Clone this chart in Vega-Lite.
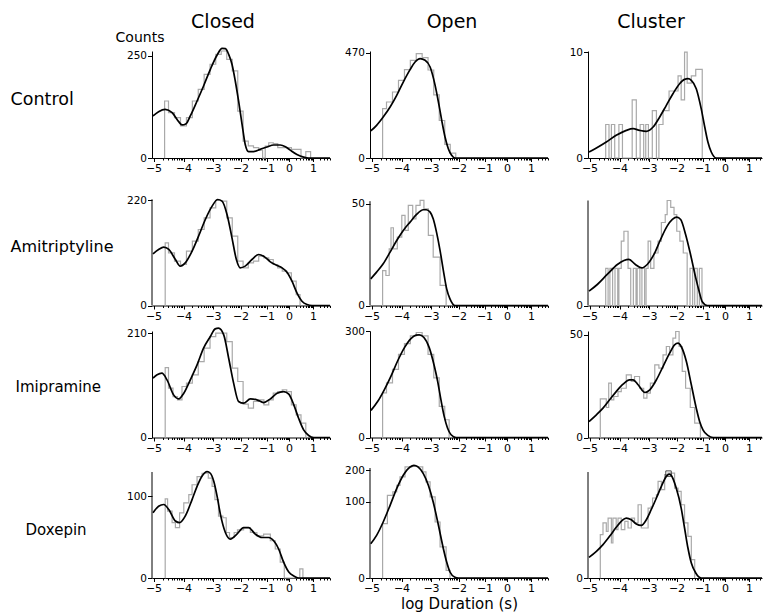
{
  "$schema": "https://vega.github.io/schema/vega-lite/v6.json",
  "padding": {"left": 10, "top": 12, "right": 0, "bottom": 0},
  "background": "white",
  "config": {
    "view": {"stroke": null},
    "font": "DejaVu Sans",
    "axis": {"grid": false, "domainColor": "black", "tickColor": "black", "labelColor": "black", "labelFont": "DejaVu Sans", "labelFontSize": 10.5, "titleFont": "DejaVu Sans", "titleFontWeight": "normal", "titleColor": "black", "domainWidth": 1, "tickWidth": 1},
    "title": {"font": "DejaVu Sans", "fontSize": 19, "fontWeight": "normal", "color": "black", "anchor": "middle"},
    "text": {"font": "DejaVu Sans"}
  },
  "datasets": {
    "h11": [{"logt":-4.631,"count":0},{"logt":-4.63,"count":78},{"logt":-4.5,"count":49.4},{"logt":-4.3,"count":39.1},{"logt":-4.1,"count":24.6},{"logt":-3.9,"count":39},{"logt":-3.7,"count":78},{"logt":-3.5,"count":113},{"logt":-3.3,"count":168},{"logt":-3.1,"count":211},{"logt":-2.9,"count":258},{"logt":-2.7,"count":275},{"logt":-2.5,"count":234},{"logt":-2.3,"count":182},{"logt":-2.1,"count":53},{"logt":-1.9,"count":6.9},{"logt":-1.7,"count":3.5},{"logt":-1.5,"count":2.6},{"logt":-1.3,"count":1.5},{"logt":-1.15,"count":0},{"logt":-1.05,"count":3.4},{"logt":-0.9,"count":5.6},{"logt":-0.7,"count":4.9},{"logt":-0.5,"count":2.6},{"logt":-0.3,"count":2.6},{"logt":-0.1,"count":2.6},{"logt":0.1,"count":1.8},{"logt":0.3,"count":1.8},{"logt":0.5,"count":0},{"logt":0.7,"count":0.96},{"logt":0.9,"count":0}],
    "c11": [{"logt":-5.02,"count":42.4},{"logt":-4.83,"count":51.6},{"logt":-4.61,"count":56.9},{"logt":-4.38,"count":49.4},{"logt":-4.16,"count":31.7},{"logt":-4.05,"count":26.2},{"logt":-3.91,"count":28.3},{"logt":-3.77,"count":42.4},{"logt":-3.54,"count":78.1},{"logt":-3.32,"count":124.6},{"logt":-3.09,"count":188.9},{"logt":-2.85,"count":255},{"logt":-2.67,"count":289},{"logt":-2.55,"count":287},{"logt":-2.43,"count":258},{"logt":-2.31,"count":211},{"logt":-2.19,"count":142.5},{"logt":-2.07,"count":78.1},{"logt":-1.94,"count":27.2},{"logt":-1.82,"count":4.5},{"logt":-1.69,"count":0.96},{"logt":-1.5,"count":1.0},{"logt":-1.24,"count":1.8},{"logt":-0.98,"count":2.9},{"logt":-0.68,"count":4.06},{"logt":-0.39,"count":4.06},{"logt":-0.16,"count":3.1},{"logt":0.05,"count":1.5},{"logt":0.33,"count":0.3},{"logt":0.61,"count":0.02},{"logt":0.82,"count":0},{"logt":1.71,"count":0}],
    "h12": [{"logt":-4.631,"count":0},{"logt":-4.63,"count":104},{"logt":-4.5,"count":133.7},{"logt":-4.3,"count":185.7},{"logt":-4.1,"count":257},{"logt":-3.9,"count":332.7},{"logt":-3.7,"count":406.6},{"logt":-3.5,"count":464},{"logt":-3.3,"count":430},{"logt":-3.1,"count":330},{"logt":-2.9,"count":170},{"logt":-2.7,"count":60},{"logt":-2.5,"count":8},{"logt":-2.3,"count":1},{"logt":-2.1,"count":0}],
    "c12": [{"logt":-5.03,"count":31.1},{"logt":-4.83,"count":45.5},{"logt":-4.61,"count":71.7},{"logt":-4.38,"count":110.9},{"logt":-4.16,"count":167.4},{"logt":-3.94,"count":246},{"logt":-3.71,"count":332.7},{"logt":-3.54,"count":393},{"logt":-3.37,"count":420.6},{"logt":-3.2,"count":406.6},{"logt":-3.03,"count":353},{"logt":-2.85,"count":225},{"logt":-2.73,"count":133.7},{"logt":-2.61,"count":60.5},{"logt":-2.49,"count":18.8},{"logt":-2.37,"count":3.7},{"logt":-2.25,"count":0.3},{"logt":-2.13,"count":0},{"logt":1.71,"count":0}],
    "h13": [{"logt":-4.461,"count":0},{"logt":-4.46,"count":1},{"logt":-4.35,"count":0},{"logt":-4.27,"count":1},{"logt":-4.16,"count":0},{"logt":-4.02,"count":1},{"logt":-3.9,"count":0},{"logt":-3.57,"count":3},{"logt":-3.43,"count":0},{"logt":-3.3,"count":1},{"logt":-3.18,"count":0},{"logt":-3.11,"count":1},{"logt":-3.02,"count":0},{"logt":-2.88,"count":2},{"logt":-2.73,"count":0},{"logt":-2.64,"count":1},{"logt":-2.49,"count":2},{"logt":-2.27,"count":4},{"logt":-1.94,"count":6},{"logt":-1.82,"count":3},{"logt":-1.69,"count":10},{"logt":-1.59,"count":5},{"logt":-1.43,"count":6},{"logt":-1.26,"count":7},{"logt":-1.01,"count":0}],
    "c13": [{"logt":-5.02,"count":0.032},{"logt":-4.77,"count":0.089},{"logt":-4.44,"count":0.228},{"logt":-4.11,"count":0.457},{"logt":-3.77,"count":0.68},{"logt":-3.54,"count":0.766},{"logt":-3.32,"count":0.68},{"logt":-3.09,"count":0.633},{"logt":-2.85,"count":0.855},{"logt":-2.61,"count":1.5},{"logt":-2.37,"count":2.47},{"logt":-2.13,"count":3.68},{"logt":-1.88,"count":4.92},{"logt":-1.69,"count":5.51},{"logt":-1.56,"count":5.6},{"logt":-1.43,"count":5.37},{"logt":-1.24,"count":4.28},{"logt":-1.05,"count":2.17},{"logt":-0.9,"count":0.855},{"logt":-0.76,"count":0.228},{"logt":-0.61,"count":0.032},{"logt":-0.39,"count":0},{"logt":1.54,"count":0}],
    "h21": [{"logt":-4.611,"count":0},{"logt":-4.61,"count":78.4},{"logt":-4.5,"count":55.3},{"logt":-4.3,"count":39.2},{"logt":-4.1,"count":33.5},{"logt":-3.9,"count":58.9},{"logt":-3.7,"count":82.6},{"logt":-3.5,"count":115.3},{"logt":-3.3,"count":153.4},{"logt":-3.1,"count":190.3},{"logt":-2.9,"count":220},{"logt":-2.7,"count":217},{"logt":-2.5,"count":153},{"logt":-2.3,"count":95.9},{"logt":-2.1,"count":39.2},{"logt":-1.9,"count":28.3},{"logt":-1.7,"count":36.3},{"logt":-1.5,"count":39.2},{"logt":-1.3,"count":48.6},{"logt":-1.1,"count":45.3},{"logt":-0.9,"count":42.2},{"logt":-0.7,"count":33.5},{"logt":-0.5,"count":28.3},{"logt":-0.3,"count":23.5},{"logt":-0.1,"count":21.3},{"logt":0.1,"count":11.8},{"logt":0.3,"count":2.4},{"logt":0.46,"count":0}],
    "c21": [{"logt":-5.02,"count":53.3},{"logt":-4.83,"count":62.6},{"logt":-4.66,"count":67.9},{"logt":-4.49,"count":62.6},{"logt":-4.27,"count":42.2},{"logt":-4.11,"count":30.9},{"logt":-3.94,"count":36.3},{"logt":-3.71,"count":58.9},{"logt":-3.49,"count":95.9},{"logt":-3.26,"count":147.6},{"logt":-3.03,"count":196.9},{"logt":-2.83,"count":224.2},{"logt":-2.67,"count":217.2},{"logt":-2.49,"count":165.2},{"logt":-2.31,"count":91.4},{"logt":-2.15,"count":42.2},{"logt":-2.01,"count":28.3},{"logt":-1.82,"count":30.9},{"logt":-1.56,"count":42.2},{"logt":-1.3,"count":51.9},{"logt":-1.11,"count":48.6},{"logt":-0.83,"count":38},{"logt":-0.53,"count":31.9},{"logt":-0.31,"count":28.3},{"logt":-0.09,"count":22.2},{"logt":0.125,"count":11.8},{"logt":0.33,"count":3.2},{"logt":0.54,"count":0.37},{"logt":0.75,"count":0.02},{"logt":0.96,"count":0},{"logt":1.71,"count":0}],
    "h22": [{"logt":-4.631,"count":0},{"logt":-4.63,"count":5.9},{"logt":-4.52,"count":4.35},{"logt":-4.41,"count":15.5},{"logt":-4.35,"count":29.2},{"logt":-4.27,"count":15.5},{"logt":-4.14,"count":22.6},{"logt":-3.99,"count":39.2},{"logt":-3.88,"count":27.2},{"logt":-3.77,"count":48.4},{"logt":-3.62,"count":36.3},{"logt":-3.51,"count":48.4},{"logt":-3.37,"count":53.3},{"logt":-3.24,"count":45.2},{"logt":-3.09,"count":23.7},{"logt":-2.92,"count":11.3},{"logt":-2.67,"count":1.94},{"logt":-2.45,"count":0}],
    "c22": [{"logt":-5.03,"count":3.44},{"logt":-4.83,"count":5.37},{"logt":-4.61,"count":8.4},{"logt":-4.38,"count":13.76},{"logt":-4.16,"count":20.4},{"logt":-3.94,"count":27.2},{"logt":-3.71,"count":33.6},{"logt":-3.49,"count":40.1},{"logt":-3.26,"count":44.3},{"logt":-3.16,"count":44.3},{"logt":-3.03,"count":42.1},{"logt":-2.92,"count":36.3},{"logt":-2.8,"count":26},{"logt":-2.67,"count":14.6},{"logt":-2.55,"count":5.9},{"logt":-2.43,"count":1.34},{"logt":-2.31,"count":0.21},{"logt":-2.13,"count":0},{"logt":1.71,"count":0}],
    "h23": [{"logt":-4.461,"count":0},{"logt":-4.46,"count":1},{"logt":-4.38,"count":0},{"logt":-4.32,"count":1},{"logt":-4.23,"count":0},{"logt":-4.15,"count":1},{"logt":-4.06,"count":0},{"logt":-4.02,"count":1},{"logt":-3.94,"count":3},{"logt":-3.85,"count":4},{"logt":-3.71,"count":1},{"logt":-3.62,"count":0},{"logt":-3.53,"count":1},{"logt":-3.44,"count":0},{"logt":-3.4,"count":1},{"logt":-3.31,"count":0},{"logt":-3.24,"count":1},{"logt":-3.15,"count":0},{"logt":-3.1,"count":1},{"logt":-3.03,"count":3},{"logt":-2.94,"count":1},{"logt":-2.82,"count":2},{"logt":-2.67,"count":3},{"logt":-2.55,"count":5},{"logt":-2.41,"count":6},{"logt":-2.34,"count":8},{"logt":-2.21,"count":7},{"logt":-2.09,"count":6},{"logt":-1.99,"count":4},{"logt":-1.87,"count":3},{"logt":-1.74,"count":2},{"logt":-1.59,"count":0},{"logt":-1.48,"count":1},{"logt":-1.38,"count":0},{"logt":-1.3,"count":1},{"logt":-1.2,"count":0},{"logt":-1.12,"count":1},{"logt":-1.02,"count":0}],
    "c23": [{"logt":-5.02,"count":0.149},{"logt":-4.74,"count":0.32},{"logt":-4.41,"count":0.7},{"logt":-4.07,"count":1.22},{"logt":-3.85,"count":1.47},{"logt":-3.68,"count":1.54},{"logt":-3.46,"count":1.22},{"logt":-3.24,"count":1.03},{"logt":-3.06,"count":1.22},{"logt":-2.82,"count":1.89},{"logt":-2.58,"count":3.16},{"logt":-2.34,"count":4.57},{"logt":-2.15,"count":5.37},{"logt":-1.99,"count":5.66},{"logt":-1.84,"count":5.37},{"logt":-1.65,"count":3.66},{"logt":-1.46,"count":1.89},{"logt":-1.26,"count":0.555},{"logt":-1.13,"count":0.149},{"logt":-1.01,"count":0.01},{"logt":-0.79,"count":0},{"logt":1.54,"count":0}],
    "h31": [{"logt":-4.611,"count":0},{"logt":-4.61,"count":94.5},{"logt":-4.5,"count":47},{"logt":-4.35,"count":32.4},{"logt":-4.2,"count":27.4},{"logt":-4.05,"count":50.2},{"logt":-3.9,"count":57},{"logt":-3.7,"count":75.8},{"logt":-3.5,"count":111.4},{"logt":-3.3,"count":154},{"logt":-3.1,"count":196.8},{"logt":-2.9,"count":210},{"logt":-2.7,"count":210},{"logt":-2.5,"count":177.8},{"logt":-2.3,"count":93},{"logt":-2.1,"count":60.5},{"logt":-1.9,"count":21.4},{"logt":-1.7,"count":16.6},{"logt":-1.5,"count":25},{"logt":-1.3,"count":27.4},{"logt":-1.1,"count":20.6},{"logt":-0.9,"count":27.4},{"logt":-0.7,"count":37.9},{"logt":-0.5,"count":40.8},{"logt":-0.3,"count":44},{"logt":-0.1,"count":40.8},{"logt":0.1,"count":20.6},{"logt":0.3,"count":9.9},{"logt":0.5,"count":4},{"logt":0.7,"count":0}],
    "c31": [{"logt":-5.02,"count":67.9},{"logt":-4.88,"count":75.8},{"logt":-4.72,"count":79.8},{"logt":-4.55,"count":64.2},{"logt":-4.33,"count":35.1},{"logt":-4.16,"count":28.8},{"logt":-3.99,"count":37.9},{"logt":-3.77,"count":64.2},{"logt":-3.54,"count":101.9},{"logt":-3.32,"count":154},{"logt":-3.09,"count":196.8},{"logt":-2.92,"count":227.8},{"logt":-2.8,"count":230.6},{"logt":-2.61,"count":203.3},{"logt":-2.43,"count":121.4},{"logt":-2.25,"count":57},{"logt":-2.07,"count":25},{"logt":-1.88,"count":22.7},{"logt":-1.62,"count":28.8},{"logt":-1.37,"count":27.4},{"logt":-1.11,"count":23.6},{"logt":-0.83,"count":28.8},{"logt":-0.53,"count":37.9},{"logt":-0.24,"count":40.8},{"logt":-0.01,"count":36.2},{"logt":0.2,"count":20.6},{"logt":0.4,"count":7.2},{"logt":0.61,"count":1.13},{"logt":0.82,"count":0.08},{"logt":1.03,"count":0},{"logt":1.71,"count":0}],
    "h32": [{"logt":-4.631,"count":0},{"logt":-4.63,"count":53},{"logt":-4.5,"count":79.8},{"logt":-4.3,"count":123.8},{"logt":-4.1,"count":184.8},{"logt":-3.9,"count":235.5},{"logt":-3.7,"count":275.8},{"logt":-3.5,"count":294.3},{"logt":-3.3,"count":275.8},{"logt":-3.1,"count":184.8},{"logt":-2.9,"count":95.2},{"logt":-2.7,"count":26},{"logt":-2.5,"count":8.4},{"logt":-2.34,"count":0}],
    "c32": [{"logt":-5.02,"count":19.7},{"logt":-4.79,"count":35},{"logt":-4.57,"count":61.4},{"logt":-4.35,"count":100.6},{"logt":-4.13,"count":156.2},{"logt":-3.9,"count":215.8},{"logt":-3.68,"count":261.4},{"logt":-3.51,"count":279.5},{"logt":-3.4,"count":281.3},{"logt":-3.24,"count":266.8},{"logt":-3.06,"count":215.8},{"logt":-2.88,"count":136.3},{"logt":-2.76,"count":84.8},{"logt":-2.64,"count":38.4},{"logt":-2.52,"count":11.9},{"logt":-2.4,"count":2.4},{"logt":-2.27,"count":0.2},{"logt":-2.09,"count":0},{"logt":1.71,"count":0}],
    "h33": [{"logt":-4.641,"count":0},{"logt":-4.64,"count":7.09},{"logt":-4.44,"count":4.27},{"logt":-4.36,"count":14},{"logt":-4.27,"count":6.73},{"logt":-4.19,"count":7.97},{"logt":-4.05,"count":10},{"logt":-3.94,"count":11.5},{"logt":-3.77,"count":18.6},{"logt":-3.6,"count":14.9},{"logt":-3.49,"count":17.65},{"logt":-3.32,"count":11.5},{"logt":-3.18,"count":7.34},{"logt":-3.07,"count":9.32},{"logt":-2.95,"count":14},{"logt":-2.79,"count":25},{"logt":-2.64,"count":22.8},{"logt":-2.49,"count":32.4},{"logt":-2.37,"count":39.3},{"logt":-2.25,"count":32.4},{"logt":-2.13,"count":46.8},{"logt":-2.03,"count":53.3},{"logt":-1.9,"count":39.3},{"logt":-1.78,"count":20.7},{"logt":-1.65,"count":11.5},{"logt":-1.47,"count":4.27},{"logt":-1.3,"count":0.97},{"logt":-1.08,"count":0}],
    "c33": [{"logt":-5.02,"count":1.21},{"logt":-4.77,"count":2.44},{"logt":-4.55,"count":4.08},{"logt":-4.33,"count":6.73},{"logt":-4.11,"count":10},{"logt":-3.88,"count":13.5},{"logt":-3.66,"count":15.8},{"logt":-3.54,"count":15.8},{"logt":-3.37,"count":13.2},{"logt":-3.14,"count":9.6},{"logt":-2.97,"count":10.8},{"logt":-2.73,"count":15.8},{"logt":-2.49,"count":23.9},{"logt":-2.25,"count":33.7},{"logt":-2.07,"count":40.7},{"logt":-1.94,"count":42.2},{"logt":-1.82,"count":39.3},{"logt":-1.62,"count":27.4},{"logt":-1.43,"count":13.2},{"logt":-1.24,"count":4.08},{"logt":-1.11,"count":1.21},{"logt":-0.98,"count":0.28},{"logt":-0.76,"count":0.02},{"logt":-0.53,"count":0},{"logt":1.54,"count":0}],
    "h41": [{"logt":-4.611,"count":0},{"logt":-4.61,"count":93.7},{"logt":-4.53,"count":67},{"logt":-4.38,"count":45.9},{"logt":-4.27,"count":38.1},{"logt":-4.13,"count":63.7},{"logt":-3.99,"count":84.5},{"logt":-3.82,"count":104.1},{"logt":-3.71,"count":130.2},{"logt":-3.54,"count":154.2},{"logt":-3.37,"count":164.4},{"logt":-3.16,"count":149.3},{"logt":-3.03,"count":125.7},{"logt":-2.93,"count":92.1},{"logt":-2.8,"count":57.5},{"logt":-2.64,"count":54.4},{"logt":-2.52,"count":31},{"logt":-2.4,"count":24.6},{"logt":-2.23,"count":31},{"logt":-2.11,"count":34.7},{"logt":-1.88,"count":38.1},{"logt":-1.62,"count":31},{"logt":-1.37,"count":26.6},{"logt":-1.11,"count":28.8},{"logt":-0.83,"count":20.8},{"logt":-0.61,"count":12.6},{"logt":-0.39,"count":3.75},{"logt":-0.21,"count":0},{"logt":0.45,"count":1.27},{"logt":0.58,"count":0}],
    "c41": [{"logt":-5.02,"count":63.7},{"logt":-4.83,"count":77.3},{"logt":-4.66,"count":80.9},{"logt":-4.49,"count":70.3},{"logt":-4.27,"count":48.7},{"logt":-4.13,"count":45.9},{"logt":-3.94,"count":57.5},{"logt":-3.71,"count":92.1},{"logt":-3.54,"count":125.7},{"logt":-3.37,"count":156},{"logt":-3.2,"count":169.6},{"logt":-3.09,"count":164.4},{"logt":-2.97,"count":139.6},{"logt":-2.85,"count":100},{"logt":-2.73,"count":60.6},{"logt":-2.55,"count":31},{"logt":-2.37,"count":22.6},{"logt":-2.13,"count":28.8},{"logt":-1.88,"count":38.1},{"logt":-1.69,"count":38.1},{"logt":-1.43,"count":28.8},{"logt":-1.17,"count":24.6},{"logt":-0.9,"count":24.6},{"logt":-0.68,"count":20.8},{"logt":-0.46,"count":12.6},{"logt":-0.24,"count":3.75},{"logt":-0.01,"count":0.53},{"logt":0.2,"count":0.06},{"logt":0.4,"count":0},{"logt":1.71,"count":0}],
    "h42": [{"logt":-4.631,"count":0},{"logt":-4.63,"count":50.9},{"logt":-4.47,"count":117.9},{"logt":-4.29,"count":127.6},{"logt":-4.16,"count":148.2},{"logt":-4.05,"count":176},{"logt":-3.88,"count":212.6},{"logt":-3.65,"count":215.1},{"logt":-3.46,"count":212.6},{"logt":-3.28,"count":193.9},{"logt":-3.17,"count":159},{"logt":-3.03,"count":113.2},{"logt":-2.85,"count":54.1},{"logt":-2.67,"count":16.6},{"logt":-2.45,"count":1},{"logt":-2.31,"count":0}],
    "c42": [{"logt":-5.03,"count":20.3},{"logt":-4.83,"count":31.4},{"logt":-4.61,"count":54.1},{"logt":-4.38,"count":91.1},{"logt":-4.16,"count":137.7},{"logt":-3.94,"count":181.9},{"logt":-3.71,"count":212.6},{"logt":-3.58,"count":219},{"logt":-3.44,"count":212.6},{"logt":-3.26,"count":187.8},{"logt":-3.09,"count":148.2},{"logt":-2.92,"count":99.7},{"logt":-2.73,"count":47.9},{"logt":-2.55,"count":14.8},{"logt":-2.43,"count":4.4},{"logt":-2.31,"count":0.62},{"logt":-2.13,"count":0.01},{"logt":-2.0,"count":0},{"logt":1.71,"count":0}],
    "h43": [{"logt":-4.641,"count":0},{"logt":-4.64,"count":6.69},{"logt":-4.55,"count":10.8},{"logt":-4.44,"count":7.75},{"logt":-4.38,"count":12.8},{"logt":-4.27,"count":4.36},{"logt":-4.22,"count":12.8},{"logt":-4.11,"count":8.32},{"logt":-4.05,"count":12.8},{"logt":-3.94,"count":8.32},{"logt":-3.82,"count":11.4},{"logt":-3.71,"count":8.9},{"logt":-3.6,"count":12.8},{"logt":-3.49,"count":10.8},{"logt":-3.37,"count":19.1},{"logt":-3.26,"count":8.9},{"logt":-3.03,"count":17.4},{"logt":-2.92,"count":18.3},{"logt":-2.87,"count":22.8},{"logt":-2.73,"count":24.7},{"logt":-2.67,"count":33.3},{"logt":-2.55,"count":27.8},{"logt":-2.43,"count":38},{"logt":-2.31,"count":39.2},{"logt":-2.07,"count":28.8},{"logt":-1.94,"count":26.7},{"logt":-1.82,"count":19.1},{"logt":-1.69,"count":10.8},{"logt":-1.56,"count":6.18},{"logt":-1.43,"count":1.2},{"logt":-1.3,"count":0}],
    "c43": [{"logt":-5.02,"count":1.52},{"logt":-4.77,"count":2.53},{"logt":-4.55,"count":3.96},{"logt":-4.33,"count":6.18},{"logt":-4.11,"count":9.14},{"logt":-3.88,"count":12.1},{"logt":-3.77,"count":12.8},{"logt":-3.6,"count":12.1},{"logt":-3.43,"count":10.4},{"logt":-3.26,"count":9.87},{"logt":-3.09,"count":12.1},{"logt":-2.92,"count":16.6},{"logt":-2.73,"count":22.8},{"logt":-2.55,"count":29.9},{"logt":-2.37,"count":36.8},{"logt":-2.27,"count":38.5},{"logt":-2.19,"count":37.5},{"logt":-2.01,"count":28.8},{"logt":-1.82,"count":17.4},{"logt":-1.69,"count":8.9},{"logt":-1.56,"count":3.2},{"logt":-1.43,"count":0.8},{"logt":-1.26,"count":0.09},{"logt":-1.05,"count":0},{"logt":1.54,"count":0}],
    "mk43": [{"logt":-2.29,"count":38.8}]
  },
  "columns": 3,
  "spacing": {"row": 25, "column": 40},
  "bounds": "flush",
  "concat": [
    {
      "width": 178, "height": 107,
      "title": {"text": "Closed", "dx": -18, "offset": -1},
      "resolve": {"axis": {"x": "independent"}},
      "layer": [
        {"data": {"name": "h11"}, "mark": {"type": "line", "interpolate": "step-after", "color": "#a9a9a9", "strokeWidth": 1.2},
         "encoding": {
           "x": {"field": "logt", "type": "quantitative", "scale": {"domain": [-5.06,-5,-4,-3,-2,-1,0,1,1.71], "range": [0,1.5,31.5,61,88.5,114.5,137,161,178], "nice": false, "zero": false}, "axis": {"orient": "bottom", "values": [-5,-4,-3,-2,-1,0,1], "title": null, "tickSize": 3.5, "labelPadding": 1, "labelFontSize": 11, "labelFlush": false, "labelOverlap": false}},
           "y": {"field": "count", "type": "quantitative", "scale": {"type": "sqrt", "domain": [0, 275], "nice": false}, "axis": {"values": [0, 250], "title": "Control", "titleAngle": 0, "titleAlign": "left", "titleBaseline": "middle", "titleX": -142, "titleY": 48, "titleFontSize": 17.5, "tickSize": 4.5, "labelPadding": 1}}
         }},
        {"data": {"name": "c11"}, "mark": {"type": "line", "interpolate": "monotone", "color": "black", "strokeWidth": 1.7},
         "encoding": {
           "x": {"field": "logt", "type": "quantitative", "axis": {"orient": "bottom", "values": [-4.699,-4.523,-4.398,-4.301,-4.222,-4.155,-4.097,-4.046,-3.699,-3.523,-3.398,-3.301,-3.222,-3.155,-3.097,-3.046,-2.699,-2.523,-2.398,-2.301,-2.222,-2.155,-2.097,-2.046,-1.699,-1.523,-1.398,-1.301,-1.222,-1.155,-1.097,-1.046,-0.699,-0.523,-0.398,-0.301,-0.222,-0.155,-0.097,-0.046,0.301,0.477,0.602,0.699,0.778,0.845,0.903,0.954,1.301,1.477,1.602,1.699], "labels": false, "domain": false, "title": null, "tickSize": 2}},
           "y": {"field": "count", "type": "quantitative"}
         }},
        {"data": {"values": [{"label": "Counts", "edge": -5.06, "top": 275}]}, "mark": {"type": "text", "dx": -12, "dy": -13, "fontSize": 14},
         "encoding": {"x": {"field": "edge", "type": "quantitative", "axis": null}, "y": {"field": "top", "type": "quantitative"}, "text": {"field": "label"}}}
      ]
    },
    {
      "width": 178, "height": 107,
      "title": {"text": "Open", "dx": -7, "offset": 16},
      "resolve": {"axis": {"x": "independent"}},
      "layer": [
        {"data": {"name": "h12"}, "mark": {"type": "line", "interpolate": "step-after", "color": "#a9a9a9", "strokeWidth": 1.2},
         "encoding": {
           "x": {"field": "logt", "type": "quantitative", "scale": {"domain": [-5.06,-5,-4,-3,-2,-1,0,1,1.71], "range": [0,1.5,31.5,61,88.5,114.5,137,161,178], "nice": false, "zero": false}, "axis": {"orient": "bottom", "values": [-5,-4,-3,-2,-1,0,1], "title": null, "tickSize": 3.5, "labelPadding": 1, "labelFontSize": 11, "labelFlush": false, "labelOverlap": false}},
           "y": {"field": "count", "type": "quantitative", "scale": {"type": "sqrt", "domain": [0, 488], "nice": false}, "axis": {"values": [0, 470], "title": null, "tickSize": 4.5, "labelPadding": 1}}
         }},
        {"data": {"name": "c12"}, "mark": {"type": "line", "interpolate": "monotone", "color": "black", "strokeWidth": 1.7},
         "encoding": {
           "x": {"field": "logt", "type": "quantitative", "axis": {"orient": "bottom", "values": [-4.699,-4.523,-4.398,-4.301,-4.222,-4.155,-4.097,-4.046,-3.699,-3.523,-3.398,-3.301,-3.222,-3.155,-3.097,-3.046,-2.699,-2.523,-2.398,-2.301,-2.222,-2.155,-2.097,-2.046,-1.699,-1.523,-1.398,-1.301,-1.222,-1.155,-1.097,-1.046,-0.699,-0.523,-0.398,-0.301,-0.222,-0.155,-0.097,-0.046,0.301,0.477,0.602,0.699,0.778,0.845,0.903,0.954,1.301,1.477,1.602,1.699], "labels": false, "domain": false, "title": null, "tickSize": 2}},
           "y": {"field": "count", "type": "quantitative"}
         }}
      ]
    },
    {
      "width": 174, "height": 107,
      "title": {"text": "Cluster", "dx": -24, "offset": 15},
      "resolve": {"axis": {"x": "independent"}},
      "layer": [
        {"data": {"name": "h13"}, "mark": {"type": "line", "interpolate": "step-after", "color": "#a9a9a9", "strokeWidth": 1.2},
         "encoding": {
           "x": {"field": "logt", "type": "quantitative", "scale": {"domain": [-5.06,-5,-4,-3,-2,-1,0,1,1.54], "range": [0,1.5,31.5,61,88.5,114.5,137,161,174], "nice": false, "zero": false}, "axis": {"orient": "bottom", "values": [-5,-4,-3,-2,-1,0,1], "title": null, "tickSize": 3.5, "labelPadding": 1, "labelFontSize": 11, "labelFlush": false, "labelOverlap": false}},
           "y": {"field": "count", "type": "quantitative", "scale": {"type": "sqrt", "domain": [0, 10.2], "nice": false}, "axis": {"values": [0, 10], "title": null, "tickSize": 4.5, "labelPadding": 1}}
         }},
        {"data": {"name": "c13"}, "mark": {"type": "line", "interpolate": "monotone", "color": "black", "strokeWidth": 1.7},
         "encoding": {
           "x": {"field": "logt", "type": "quantitative", "axis": {"orient": "bottom", "values": [-4.699,-4.523,-4.398,-4.301,-4.222,-4.155,-4.097,-4.046,-3.699,-3.523,-3.398,-3.301,-3.222,-3.155,-3.097,-3.046,-2.699,-2.523,-2.398,-2.301,-2.222,-2.155,-2.097,-2.046,-1.699,-1.523,-1.398,-1.301,-1.222,-1.155,-1.097,-1.046,-0.699,-0.523,-0.398,-0.301,-0.222,-0.155,-0.097,-0.046,0.301,0.477,0.602,0.699,0.778,0.845,0.903,0.954,1.301,1.477], "labels": false, "domain": false, "title": null, "tickSize": 2}},
           "y": {"field": "count", "type": "quantitative"}
         }}
      ]
    },
    {
      "width": 178, "height": 122.5,
      "resolve": {"axis": {"x": "independent"}},
      "layer": [
        {"data": {"name": "h21"}, "mark": {"type": "line", "interpolate": "step-after", "color": "#a9a9a9", "strokeWidth": 1.2},
         "encoding": {
           "x": {"field": "logt", "type": "quantitative", "scale": {"domain": [-5.06,-5,-4,-3,-2,-1,0,1,1.71], "range": [0,1.5,31.5,61,88.5,114.5,137,161,178], "nice": false, "zero": false}, "axis": {"orient": "bottom", "values": [-5,-4,-3,-2,-1,0,1], "title": null, "tickSize": 3.5, "labelPadding": 1, "labelFontSize": 11, "labelFlush": false, "labelOverlap": false}},
           "y": {"field": "count", "type": "quantitative", "scale": {"type": "sqrt", "domain": [0, 299.4], "nice": false}, "axis": {"values": [0, 220], "domain": false, "title": "Amitriptyline", "titleAngle": 0, "titleAlign": "left", "titleBaseline": "middle", "titleX": -142, "titleY": 63, "titleFontSize": 16, "tickSize": 4.5, "labelPadding": 1}}
         }},
        {"data": {"name": "c21"}, "mark": {"type": "line", "interpolate": "monotone", "color": "black", "strokeWidth": 1.7},
         "encoding": {
           "x": {"field": "logt", "type": "quantitative", "axis": {"orient": "bottom", "values": [-4.699,-4.523,-4.398,-4.301,-4.222,-4.155,-4.097,-4.046,-3.699,-3.523,-3.398,-3.301,-3.222,-3.155,-3.097,-3.046,-2.699,-2.523,-2.398,-2.301,-2.222,-2.155,-2.097,-2.046,-1.699,-1.523,-1.398,-1.301,-1.222,-1.155,-1.097,-1.046,-0.699,-0.523,-0.398,-0.301,-0.222,-0.155,-0.097,-0.046,0.301,0.477,0.602,0.699,0.778,0.845,0.903,0.954,1.301,1.477,1.602,1.699], "labels": false, "domain": false, "title": null, "tickSize": 2}},
           "y": {"field": "count", "type": "quantitative"}
         }},
        {"data": {"values": [{"edge": -5.06, "lo": 0, "hi": 225}]}, "mark": {"type": "rule", "color": "black", "strokeWidth": 1},
         "encoding": {"x": {"field": "edge", "type": "quantitative", "axis": null}, "y": {"field": "lo", "type": "quantitative"}, "y2": {"field": "hi"}}}
      ]
    },
    {
      "width": 178, "height": 122.5,
      "resolve": {"axis": {"x": "independent"}},
      "layer": [
        {"data": {"name": "h22"}, "mark": {"type": "line", "interpolate": "step-after", "color": "#a9a9a9", "strokeWidth": 1.2},
         "encoding": {
           "x": {"field": "logt", "type": "quantitative", "scale": {"domain": [-5.06,-5,-4,-3,-2,-1,0,1,1.71], "range": [0,1.5,31.5,61,88.5,114.5,137,161,178], "nice": false, "zero": false}, "axis": {"orient": "bottom", "values": [-5,-4,-3,-2,-1,0,1], "title": null, "tickSize": 3.5, "labelPadding": 1, "labelFontSize": 11, "labelFlush": false, "labelOverlap": false}},
           "y": {"field": "count", "type": "quantitative", "scale": {"type": "sqrt", "domain": [0, 72.5], "nice": false}, "axis": {"values": [0, 50], "domain": false, "title": null, "tickSize": 4.5, "labelPadding": 1}}
         }},
        {"data": {"name": "c22"}, "mark": {"type": "line", "interpolate": "monotone", "color": "black", "strokeWidth": 1.7},
         "encoding": {
           "x": {"field": "logt", "type": "quantitative", "axis": {"orient": "bottom", "values": [-4.699,-4.523,-4.398,-4.301,-4.222,-4.155,-4.097,-4.046,-3.699,-3.523,-3.398,-3.301,-3.222,-3.155,-3.097,-3.046,-2.699,-2.523,-2.398,-2.301,-2.222,-2.155,-2.097,-2.046,-1.699,-1.523,-1.398,-1.301,-1.222,-1.155,-1.097,-1.046,-0.699,-0.523,-0.398,-0.301,-0.222,-0.155,-0.097,-0.046,0.301,0.477,0.602,0.699,0.778,0.845,0.903,0.954,1.301,1.477,1.602,1.699], "labels": false, "domain": false, "title": null, "tickSize": 2}},
           "y": {"field": "count", "type": "quantitative"}
         }},
        {"data": {"values": [{"edge": -5.06, "lo": 0, "hi": 52.6}]}, "mark": {"type": "rule", "color": "black", "strokeWidth": 1},
         "encoding": {"x": {"field": "edge", "type": "quantitative", "axis": null}, "y": {"field": "lo", "type": "quantitative"}, "y2": {"field": "hi"}}}
      ]
    },
    {
      "width": 174, "height": 122.5,
      "resolve": {"axis": {"x": "independent"}},
      "layer": [
        {"data": {"name": "h23"}, "mark": {"type": "line", "interpolate": "step-after", "color": "#a9a9a9", "strokeWidth": 1.2},
         "encoding": {
           "x": {"field": "logt", "type": "quantitative", "scale": {"domain": [-5.06,-5,-4,-3,-2,-1,0,1,1.54], "range": [0,1.5,31.5,61,88.5,114.5,137,161,174], "nice": false, "zero": false}, "axis": {"orient": "bottom", "values": [-5,-4,-3,-2,-1,0,1], "title": null, "tickSize": 3.5, "labelPadding": 1, "labelFontSize": 11, "labelFlush": false, "labelOverlap": false}},
           "y": {"field": "count", "type": "quantitative", "scale": {"type": "sqrt", "domain": [0, 10.89], "nice": false}, "axis": {"values": [0], "domain": false, "title": null, "tickSize": 4.5, "labelPadding": 1}}
         }},
        {"data": {"name": "c23"}, "mark": {"type": "line", "interpolate": "monotone", "color": "black", "strokeWidth": 1.7},
         "encoding": {
           "x": {"field": "logt", "type": "quantitative", "axis": {"orient": "bottom", "values": [-4.699,-4.523,-4.398,-4.301,-4.222,-4.155,-4.097,-4.046,-3.699,-3.523,-3.398,-3.301,-3.222,-3.155,-3.097,-3.046,-2.699,-2.523,-2.398,-2.301,-2.222,-2.155,-2.097,-2.046,-1.699,-1.523,-1.398,-1.301,-1.222,-1.155,-1.097,-1.046,-0.699,-0.523,-0.398,-0.301,-0.222,-0.155,-0.097,-0.046,0.301,0.477,0.602,0.699,0.778,0.845,0.903,0.954,1.301,1.477], "labels": false, "domain": false, "title": null, "tickSize": 2}},
           "y": {"field": "count", "type": "quantitative"}
         }},
        {"data": {"values": [{"edge": -5.06, "lo": 0, "hi": 8}]}, "mark": {"type": "rule", "color": "black", "strokeWidth": 1},
         "encoding": {"x": {"field": "edge", "type": "quantitative", "axis": null}, "y": {"field": "lo", "type": "quantitative"}, "y2": {"field": "hi"}}}
      ]
    },
    {
      "width": 178, "height": 106.5,
      "resolve": {"axis": {"x": "independent"}},
      "layer": [
        {"data": {"name": "h31"}, "mark": {"type": "line", "interpolate": "step-after", "color": "#a9a9a9", "strokeWidth": 1.2},
         "encoding": {
           "x": {"field": "logt", "type": "quantitative", "scale": {"domain": [-5.06,-5,-4,-3,-2,-1,0,1,1.71], "range": [0,1.5,31.5,61,88.5,114.5,137,161,178], "nice": false, "zero": false}, "axis": {"orient": "bottom", "values": [-5,-4,-3,-2,-1,0,1], "title": null, "tickSize": 3.5, "labelPadding": 1, "labelFontSize": 11, "labelFlush": false, "labelOverlap": false}},
           "y": {"field": "count", "type": "quantitative", "scale": {"type": "sqrt", "domain": [0, 219], "nice": false}, "axis": {"values": [0, 210], "title": "Imipramine", "titleAngle": 0, "titleAlign": "left", "titleBaseline": "middle", "titleX": -137, "titleY": 55.5, "titleFontSize": 15, "tickSize": 4.5, "labelPadding": 1}}
         }},
        {"data": {"name": "c31"}, "mark": {"type": "line", "interpolate": "monotone", "color": "black", "strokeWidth": 1.7},
         "encoding": {
           "x": {"field": "logt", "type": "quantitative", "axis": {"orient": "bottom", "values": [-4.699,-4.523,-4.398,-4.301,-4.222,-4.155,-4.097,-4.046,-3.699,-3.523,-3.398,-3.301,-3.222,-3.155,-3.097,-3.046,-2.699,-2.523,-2.398,-2.301,-2.222,-2.155,-2.097,-2.046,-1.699,-1.523,-1.398,-1.301,-1.222,-1.155,-1.097,-1.046,-0.699,-0.523,-0.398,-0.301,-0.222,-0.155,-0.097,-0.046,0.301,0.477,0.602,0.699,0.778,0.845,0.903,0.954,1.301,1.477,1.602,1.699], "labels": false, "domain": false, "title": null, "tickSize": 2}},
           "y": {"field": "count", "type": "quantitative"}
         }}
      ]
    },
    {
      "width": 178, "height": 106.5,
      "resolve": {"axis": {"x": "independent"}},
      "layer": [
        {"data": {"name": "h32"}, "mark": {"type": "line", "interpolate": "step-after", "color": "#a9a9a9", "strokeWidth": 1.2},
         "encoding": {
           "x": {"field": "logt", "type": "quantitative", "scale": {"domain": [-5.06,-5,-4,-3,-2,-1,0,1,1.71], "range": [0,1.5,31.5,61,88.5,114.5,137,161,178], "nice": false, "zero": false}, "axis": {"orient": "bottom", "values": [-5,-4,-3,-2,-1,0,1], "title": null, "tickSize": 3.5, "labelPadding": 1, "labelFontSize": 11, "labelFlush": false, "labelOverlap": false}},
           "y": {"field": "count", "type": "quantitative", "scale": {"type": "sqrt", "domain": [0, 302.8], "nice": false}, "axis": {"values": [0, 300], "title": null, "tickSize": 4.5, "labelPadding": 1}}
         }},
        {"data": {"name": "c32"}, "mark": {"type": "line", "interpolate": "monotone", "color": "black", "strokeWidth": 1.7},
         "encoding": {
           "x": {"field": "logt", "type": "quantitative", "axis": {"orient": "bottom", "values": [-4.699,-4.523,-4.398,-4.301,-4.222,-4.155,-4.097,-4.046,-3.699,-3.523,-3.398,-3.301,-3.222,-3.155,-3.097,-3.046,-2.699,-2.523,-2.398,-2.301,-2.222,-2.155,-2.097,-2.046,-1.699,-1.523,-1.398,-1.301,-1.222,-1.155,-1.097,-1.046,-0.699,-0.523,-0.398,-0.301,-0.222,-0.155,-0.097,-0.046,0.301,0.477,0.602,0.699,0.778,0.845,0.903,0.954,1.301,1.477,1.602,1.699], "labels": false, "domain": false, "title": null, "tickSize": 2}},
           "y": {"field": "count", "type": "quantitative"}
         }}
      ]
    },
    {
      "width": 174, "height": 106.5,
      "resolve": {"axis": {"x": "independent"}},
      "layer": [
        {"data": {"name": "h33"}, "mark": {"type": "line", "interpolate": "step-after", "color": "#a9a9a9", "strokeWidth": 1.2},
         "encoding": {
           "x": {"field": "logt", "type": "quantitative", "scale": {"domain": [-5.06,-5,-4,-3,-2,-1,0,1,1.54], "range": [0,1.5,31.5,61,88.5,114.5,137,161,174], "nice": false, "zero": false}, "axis": {"orient": "bottom", "values": [-5,-4,-3,-2,-1,0,1], "title": null, "tickSize": 3.5, "labelPadding": 1, "labelFontSize": 11, "labelFlush": false, "labelOverlap": false}},
           "y": {"field": "count", "type": "quantitative", "scale": {"type": "sqrt", "domain": [0, 53.8], "nice": false}, "axis": {"values": [0, 50], "title": null, "tickSize": 4.5, "labelPadding": 1}}
         }},
        {"data": {"name": "c33"}, "mark": {"type": "line", "interpolate": "monotone", "color": "black", "strokeWidth": 1.7},
         "encoding": {
           "x": {"field": "logt", "type": "quantitative", "axis": {"orient": "bottom", "values": [-4.699,-4.523,-4.398,-4.301,-4.222,-4.155,-4.097,-4.046,-3.699,-3.523,-3.398,-3.301,-3.222,-3.155,-3.097,-3.046,-2.699,-2.523,-2.398,-2.301,-2.222,-2.155,-2.097,-2.046,-1.699,-1.523,-1.398,-1.301,-1.222,-1.155,-1.097,-1.046,-0.699,-0.523,-0.398,-0.301,-0.222,-0.155,-0.097,-0.046,0.301,0.477,0.602,0.699,0.778,0.845,0.903,0.954,1.301,1.477], "labels": false, "domain": false, "title": null, "tickSize": 2}},
           "y": {"field": "count", "type": "quantitative"}
         }}
      ]
    },
    {
      "width": 178, "height": 115,
      "resolve": {"axis": {"x": "independent"}},
      "layer": [
        {"data": {"name": "h41"}, "mark": {"type": "line", "interpolate": "step-after", "color": "#a9a9a9", "strokeWidth": 1.2},
         "encoding": {
           "x": {"field": "logt", "type": "quantitative", "scale": {"domain": [-5.06,-5,-4,-3,-2,-1,0,1,1.71], "range": [0,1.5,31.5,61,88.5,114.5,137,161,178], "nice": false, "zero": false}, "axis": {"orient": "bottom", "values": [-5,-4,-3,-2,-1,0,1], "title": null, "tickSize": 3.5, "labelPadding": 1, "labelFontSize": 11, "labelFlush": false, "labelOverlap": false}},
           "y": {"field": "count", "type": "quantitative", "scale": {"type": "sqrt", "domain": [0, 198.1], "nice": false}, "axis": {"values": [0, 100], "domain": false, "title": "Doxepin", "titleAngle": 0, "titleAlign": "left", "titleBaseline": "middle", "titleX": -127, "titleY": 66, "titleFontSize": 15, "tickSize": 4.5, "labelPadding": 1}}
         }},
        {"data": {"name": "c41"}, "mark": {"type": "line", "interpolate": "monotone", "color": "black", "strokeWidth": 1.7},
         "encoding": {
           "x": {"field": "logt", "type": "quantitative", "axis": {"orient": "bottom", "values": [-4.699,-4.523,-4.398,-4.301,-4.222,-4.155,-4.097,-4.046,-3.699,-3.523,-3.398,-3.301,-3.222,-3.155,-3.097,-3.046,-2.699,-2.523,-2.398,-2.301,-2.222,-2.155,-2.097,-2.046,-1.699,-1.523,-1.398,-1.301,-1.222,-1.155,-1.097,-1.046,-0.699,-0.523,-0.398,-0.301,-0.222,-0.155,-0.097,-0.046,0.301,0.477,0.602,0.699,0.778,0.845,0.903,0.954,1.301,1.477,1.602,1.699], "labels": false, "domain": false, "title": null, "tickSize": 2}},
           "y": {"field": "count", "type": "quantitative"}
         }},
        {"data": {"values": [{"edge": -5.06, "lo": 0, "hi": 168.3}]}, "mark": {"type": "rule", "color": "black", "strokeWidth": 1},
         "encoding": {"x": {"field": "edge", "type": "quantitative", "axis": null}, "y": {"field": "lo", "type": "quantitative"}, "y2": {"field": "hi"}}}
      ]
    },
    {
      "width": 178, "height": 115,
      "resolve": {"axis": {"x": "independent"}},
      "layer": [
        {"data": {"name": "h42"}, "mark": {"type": "line", "interpolate": "step-after", "color": "#a9a9a9", "strokeWidth": 1.2},
         "encoding": {
           "x": {"field": "logt", "type": "quantitative", "scale": {"domain": [-5.06,-5,-4,-3,-2,-1,0,1,1.71], "range": [0,1.5,31.5,61,88.5,114.5,137,161,178], "nice": false, "zero": false}, "axis": {"orient": "bottom", "values": [-5,-4,-3,-2,-1,0,1], "title": "log Duration (s)", "titleFontSize": 15, "titlePadding": 3, "tickSize": 3.5, "labelPadding": 1, "labelFontSize": 11, "labelFlush": false, "labelOverlap": false}},
           "y": {"field": "count", "type": "quantitative", "scale": {"type": "sqrt", "domain": [0, 228], "nice": false}, "axis": {"values": [0, 100, 200], "domain": false, "title": null, "tickSize": 4.5, "labelPadding": 1}}
         }},
        {"data": {"name": "c42"}, "mark": {"type": "line", "interpolate": "monotone", "color": "black", "strokeWidth": 1.7},
         "encoding": {
           "x": {"field": "logt", "type": "quantitative", "axis": {"orient": "bottom", "values": [-4.699,-4.523,-4.398,-4.301,-4.222,-4.155,-4.097,-4.046,-3.699,-3.523,-3.398,-3.301,-3.222,-3.155,-3.097,-3.046,-2.699,-2.523,-2.398,-2.301,-2.222,-2.155,-2.097,-2.046,-1.699,-1.523,-1.398,-1.301,-1.222,-1.155,-1.097,-1.046,-0.699,-0.523,-0.398,-0.301,-0.222,-0.155,-0.097,-0.046,0.301,0.477,0.602,0.699,0.778,0.845,0.903,0.954,1.301,1.477,1.602,1.699], "labels": false, "domain": false, "title": null, "tickSize": 2}},
           "y": {"field": "count", "type": "quantitative"}
         }},
        {"data": {"values": [{"edge": -5.06, "lo": 0, "hi": 208.6}]}, "mark": {"type": "rule", "color": "black", "strokeWidth": 1},
         "encoding": {"x": {"field": "edge", "type": "quantitative", "axis": null}, "y": {"field": "lo", "type": "quantitative"}, "y2": {"field": "hi"}}}
      ]
    },
    {
      "width": 174, "height": 115,
      "resolve": {"axis": {"x": "independent"}},
      "layer": [
        {"data": {"name": "h43"}, "mark": {"type": "line", "interpolate": "step-after", "color": "#a9a9a9", "strokeWidth": 1.2},
         "encoding": {
           "x": {"field": "logt", "type": "quantitative", "scale": {"domain": [-5.06,-5,-4,-3,-2,-1,0,1,1.54], "range": [0,1.5,31.5,61,88.5,114.5,137,161,174], "nice": false, "zero": false}, "axis": {"orient": "bottom", "values": [-5,-4,-3,-2,-1,0,1], "title": null, "tickSize": 3.5, "labelPadding": 1, "labelFontSize": 11, "labelFlush": false, "labelOverlap": false}},
           "y": {"field": "count", "type": "quantitative", "scale": {"type": "sqrt", "domain": [0, 47.1], "nice": false}, "axis": {"values": [0], "domain": false, "title": null, "tickSize": 4.5, "labelPadding": 1}}
         }},
        {"data": {"name": "c43"}, "mark": {"type": "line", "interpolate": "monotone", "color": "black", "strokeWidth": 1.7},
         "encoding": {
           "x": {"field": "logt", "type": "quantitative", "axis": {"orient": "bottom", "values": [-4.699,-4.523,-4.398,-4.301,-4.222,-4.155,-4.097,-4.046,-3.699,-3.523,-3.398,-3.301,-3.222,-3.155,-3.097,-3.046,-2.699,-2.523,-2.398,-2.301,-2.222,-2.155,-2.097,-2.046,-1.699,-1.523,-1.398,-1.301,-1.222,-1.155,-1.097,-1.046,-0.699,-0.523,-0.398,-0.301,-0.222,-0.155,-0.097,-0.046,0.301,0.477,0.602,0.699,0.778,0.845,0.903,0.954,1.301,1.477], "labels": false, "domain": false, "title": null, "tickSize": 2}},
           "y": {"field": "count", "type": "quantitative"}
         }},
        {"data": {"name": "mk43"}, "mark": {"type": "point", "shape": "square", "filled": false, "color": "black", "size": 30, "strokeWidth": 1},
         "encoding": {"x": {"field": "logt", "type": "quantitative", "axis": null}, "y": {"field": "count", "type": "quantitative"}}},
        {"data": {"values": [{"edge": -5.06, "lo": 0, "hi": 40}]}, "mark": {"type": "rule", "color": "black", "strokeWidth": 1},
         "encoding": {"x": {"field": "edge", "type": "quantitative", "axis": null}, "y": {"field": "lo", "type": "quantitative"}, "y2": {"field": "hi"}}}
      ]
    }
  ]
}
